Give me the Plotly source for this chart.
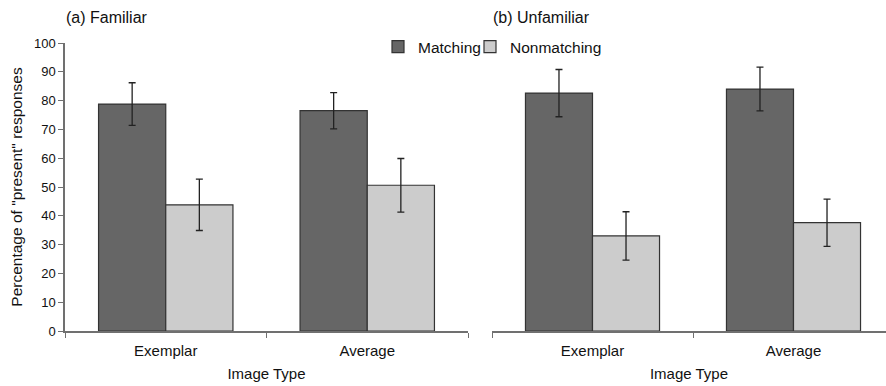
import plotly.graph_objects as go

categories = ["Exemplar", "Average"]
series_names = ["Matching", "Nonmatching"]
familiar_matching = [78.8, 76.5]
familiar_matching_err = [7.4, 6.3]
familiar_nonmatching = [43.8, 50.6]
familiar_nonmatching_err = [8.9, 9.3]
unfamiliar_matching = [82.6, 84.0]
unfamiliar_matching_err = [8.2, 7.6]
unfamiliar_nonmatching = [33.0, 37.6]
unfamiliar_nonmatching_err = [8.4, 8.2]
y_ticks = [0, 10, 20, 30, 40, 50, 60, 70, 80, 90, 100]

colors = {"Matching": "#666666", "Nonmatching": "#cccccc"}
FONT = "Liberation Sans, Arial, Helvetica, sans-serif"
W, H = 886, 386

fig = go.Figure()

def add_bars(vals, errs, name, xa, ya, show, legend):
    fig.add_trace(go.Bar(
        x=categories, y=vals, name=name, xaxis=xa, yaxis=ya,
        showlegend=show, legendgroup=name, legend=legend,
        marker=dict(color=colors[name], line=dict(color="#333333", width=1.2)),
        error_y=dict(type="data", array=errs, visible=True,
                     color="#222222", thickness=1.3, width=3.5),
    ))

add_bars(familiar_matching, familiar_matching_err, "Matching", "x", "y", True, "legend")
add_bars(familiar_nonmatching, familiar_nonmatching_err, "Nonmatching", "x", "y", True, "legend2")
add_bars(unfamiliar_matching, unfamiliar_matching_err, "Matching", "x2", "y2", False, "legend")
add_bars(unfamiliar_nonmatching, unfamiliar_nonmatching_err, "Nonmatching", "x2", "y2", False, "legend2")

axis_col = "#707070"
common_x = dict(showline=True, linecolor=axis_col, linewidth=1.5,
                ticks="outside", tickson="boundaries", ticklen=5, tickcolor=axis_col,
                showgrid=False, zeroline=False, ticklabelstandoff=5,
                tickfont=dict(size=15, color="#111111", family=FONT),
                title=dict(text="Image Type", font=dict(size=15, color="#111111", family=FONT),
                           standoff=11))

legend_common = dict(orientation="h", xanchor="left", yanchor="middle", y=0.986,
                     font=dict(size=15.5, family=FONT, color="#111111"),
                     bgcolor="rgba(0,0,0,0)", itemclick=False, itemdoubleclick=False)

fig.update_layout(
    width=W, height=H,
    margin=dict(l=0, r=0, t=43, b=55),
    paper_bgcolor="white", plot_bgcolor="white",
    font=dict(family=FONT, color="#111111"),
    barmode="group", bargap=0.333, bargroupgap=0,
    xaxis=dict(domain=[65 / W, 468 / W], range=[-0.5, 1.5], anchor="y", **common_x),
    xaxis2=dict(domain=[492 / W, 1.0], range=[-0.5, -0.5 + 394 / 201], anchor="y2", **common_x),
    yaxis=dict(range=[0, 100], tickvals=y_ticks, showline=True, linecolor=axis_col,
               linewidth=1.5, ticks="outside", ticklen=5, tickcolor=axis_col,
               showgrid=False, zeroline=False,
               tickfont=dict(size=13, color="#111111", family=FONT),
               title=dict(text='Percentage of "present" responses',
                          font=dict(size=15.5, color="#111111", family=FONT), standoff=8),
               anchor="x"),
    yaxis2=dict(range=[0, 100], visible=False, anchor="x2"),
    legend=dict(x=(393 - 15) / W, **legend_common),
    legend2=dict(x=(485 - 15) / W, **legend_common),
    annotations=[
        dict(text="(a) Familiar", x=64 / W, y=1.09, xref="paper", yref="paper",
             xanchor="left", yanchor="middle", showarrow=False,
             font=dict(size=16, family=FONT, color="#111111")),
        dict(text="(b) Unfamiliar", x=491 / W, y=1.09, xref="paper", yref="paper",
             xanchor="left", yanchor="middle", showarrow=False,
             font=dict(size=16, family=FONT, color="#111111")),
    ],
)

fig.write_html("out.html", config={"displayModeBar": False},
               post_script="document.body.style.margin='0';")
